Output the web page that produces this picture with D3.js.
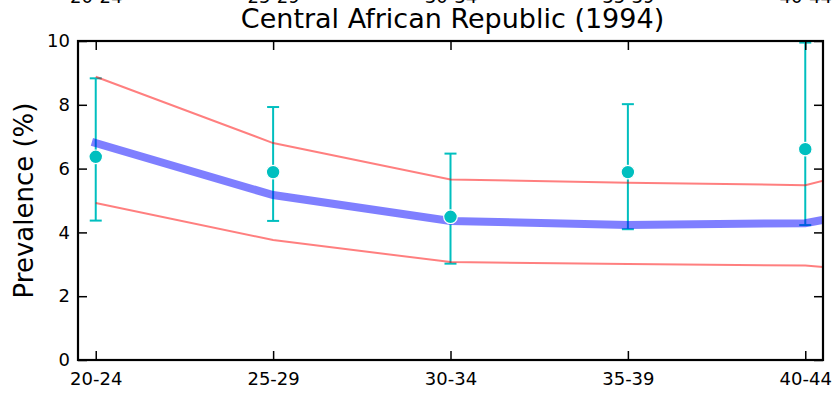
<!DOCTYPE html>
<html>
<head>
<meta charset="utf-8">
<script src="https://cdn.jsdelivr.net/npm/d3@7"></script>
<style>
  body { margin: 0; background: #fff; }
  text { font-family: "DejaVu Sans", sans-serif; }
</style>
</head>
<body>
<script>
// age groups shown on the axis, and one more the fitted curves run into
const ageGroups = ["20-24", "25-29", "30-34", "35-39", "40-44"];
const curveGroups = ["20-24", "25-29", "30-34", "35-39", "40-44", "45-49"];

// model fit (blue) and its bounds (red)
const fitMean = [6.80, 5.17, 4.36, 4.23, 4.29, 5.30];
const fitUpper = [8.88, 6.80, 5.66, 5.56, 5.48, 6.90];
const fitLower = [4.92, 3.76, 3.07, 3.01, 2.96, 2.50];

// observed prevalence with error bars
const observed = [6.37, 5.89, 4.49, 5.89, 6.61];
const obsLow = [4.37, 4.36, 3.02, 4.10, 4.23];
const obsHigh = [8.83, 7.93, 6.47, 8.02, 9.95];

const yTicks = [0, 2, 4, 6, 8, 10];

function main() {
    let width = 835, height = 393;
    let margin = {left: 78, right: 12, top: 41, bottom: 33};

    let svg = d3.select("body").append("svg")
        .attr("width", width)
        .attr("height", height);

    let x = d3.scaleLinear().domain([-0.1, 4.1]).range([margin.left, width - margin.right]);
    let y = d3.scaleLinear().domain([0, 10]).range([height - margin.bottom, margin.top]);

    svg.append("clipPath").attr("id", "plotclip")
        .append("rect")
        .attr("x", x(-0.1)).attr("y", y(10))
        .attr("width", x(4.1) - x(-0.1)).attr("height", y(0) - y(10));

    let plot = svg.append("g").attr("clip-path", "url(#plotclip)");

    // error bars
    let bars = plot.selectAll(".bar").data(observed).enter().append("g");
    bars.append("line")
        .attr("x1", (d, i) => x(i)).attr("x2", (d, i) => x(i))
        .attr("y1", (d, i) => y(obsLow[i])).attr("y2", (d, i) => y(obsHigh[i]))
        .attr("stroke", "#00bfbf").attr("stroke-width", 2);
    bars.append("line")
        .attr("x1", (d, i) => x(i) - 6).attr("x2", (d, i) => x(i) + 6)
        .attr("y1", (d, i) => y(obsLow[i])).attr("y2", (d, i) => y(obsLow[i]))
        .attr("stroke", "#00bfbf").attr("stroke-width", 2);
    bars.append("line")
        .attr("x1", (d, i) => x(i) - 6).attr("x2", (d, i) => x(i) + 6)
        .attr("y1", (d, i) => y(obsHigh[i])).attr("y2", (d, i) => y(obsHigh[i]))
        .attr("stroke", "#00bfbf").attr("stroke-width", 2);

    let line = d3.line().x((d, i) => x(i)).y(d => y(d));

    plot.append("path").datum(fitUpper)
        .attr("d", line).attr("fill", "none")
        .attr("stroke", "#ff0000").attr("stroke-opacity", 0.5).attr("stroke-width", 2);
    plot.append("path").datum(fitLower)
        .attr("d", line).attr("fill", "none")
        .attr("stroke", "#ff0000").attr("stroke-opacity", 0.5).attr("stroke-width", 2);
    plot.append("path").datum(fitMean)
        .attr("d", line).attr("fill", "none")
        .attr("stroke", "#0000ff").attr("stroke-opacity", 0.5).attr("stroke-width", 8)
        .attr("stroke-linecap", "square");

    // observed points
    plot.selectAll(".pt").data(observed).enter().append("circle")
        .attr("cx", (d, i) => x(i)).attr("cy", d => y(d))
        .attr("r", 6.8)
        .attr("fill", "#00bfbf").attr("stroke", "#fff").attr("stroke-width", 1.2);

    // axes, ticks pointing inward on all four sides
    let idx = ageGroups.map((d, i) => i);
    svg.append("g")
        .attr("transform", `translate(0,${y(0)})`)
        .call(d3.axisBottom(x).tickValues(idx).tickFormat(i => ageGroups[i]).tickSizeInner(-9).tickSizeOuter(0).tickPadding(12));
    svg.append("g")
        .attr("transform", `translate(0,${y(10)})`)
        .call(d3.axisTop(x).tickValues(idx).tickFormat(i => ageGroups[i]).tickSizeInner(-9).tickSizeOuter(0).tickPadding(38));
    svg.append("g")
        .attr("transform", `translate(${x(-0.1)},0)`)
        .call(d3.axisLeft(y).tickValues(yTicks).tickFormat(d => d).tickSizeInner(-9).tickSizeOuter(0).tickPadding(8));
    svg.append("g")
        .attr("transform", `translate(${x(4.1)},0)`)
        .call(d3.axisRight(y).tickValues(yTicks).tickFormat("").tickSizeInner(-9).tickSizeOuter(0));

    svg.selectAll(".domain").remove();
    svg.selectAll(".tick line").attr("stroke", "#000").attr("stroke-width", 1.5);
    svg.selectAll(".tick text").attr("font-size", 18).attr("fill", "#000")
        .style("font-family", "DejaVu Sans, sans-serif");

    // frame
    svg.append("rect")
        .attr("x", x(-0.1)).attr("y", y(10))
        .attr("width", x(4.1) - x(-0.1)).attr("height", y(0) - y(10))
        .attr("fill", "none").attr("stroke", "#000").attr("stroke-width", 2.2);

    svg.append("text")
        .attr("x", (x(-0.1) + x(4.1)) / 2 + 2)
        .attr("y", 28)
        .attr("text-anchor", "middle")
        .style("font-size", "27px")
        .text("Central African Republic (1994)");

    svg.append("text")
        .attr("transform", `translate(33,${(y(0) + y(10)) / 2}) rotate(-90)`)
        .attr("text-anchor", "middle")
        .style("font-size", "26px")
        .text("Prevalence (%)");
}

main()
</script>
</body>
</html>
